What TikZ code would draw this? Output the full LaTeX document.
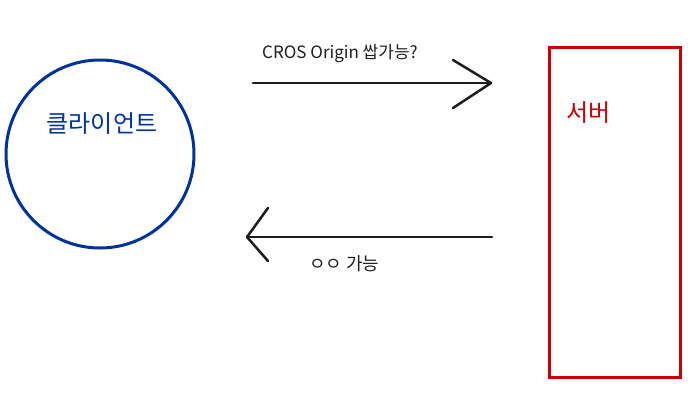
\documentclass[tikz,border=0pt]{standalone}
\usepackage{fontspec}
\newfontfamily\kr{Noto Sans CJK KR}
\definecolor{cblue}{HTML}{0033A0}
\definecolor{cred}{HTML}{CC0000}
\definecolor{cink}{HTML}{1E1E1E}
\begin{document}
\begin{tikzpicture}[x=1pt,y=-1pt,
  arrowline/.style={draw=cink,line width=2.5pt,line cap=round,line join=round},
  lbl/.style={font=\kr\fontsize{17}{19}\selectfont,text=cink,inner sep=0pt}]
\useasboundingbox (0,0) rectangle (700,408);
% client
\node[circle,draw=cblue,line width=3pt,minimum size=188pt,inner sep=0pt] (client) at (100,154) {};
\node[font=\kr\fontsize{24}{26}\selectfont,text=cblue,inner sep=0pt] (clientlbl) at (102,124) {클라이언트};
% server
\node[draw=cred,line width=3pt,rectangle,minimum width=131pt,minimum height=330pt,inner sep=0pt] (server) at (614.5,212) {};
\node[font=\kr\fontsize{24}{26}\selectfont,text=cred,inner sep=0pt,anchor=west] (serverlbl) at (566,113) {서버};
% request arrow
\coordinate (r1) at (253,83);
\coordinate (r2) at (491,83);
\coordinate (r2a) at (453,60);
\coordinate (r2b) at (453,108);
\draw[arrowline] (r1) -- (r2);
\draw[arrowline] (r2a) -- (r2) -- (r2b);
\node[lbl,anchor=west] (reqlbl) at (262,54) {CROS Origin 쌉가능?};
% response arrow
\coordinate (s1) at (492,237);
\coordinate (s2) at (247,237);
\coordinate (s2a) at (268,208);
\coordinate (s2b) at (268,261);
\draw[arrowline] (s1) -- (s2);
\draw[arrowline] (s2a) -- (s2) -- (s2b);
\node[font=\kr\fontsize{18}{20}\selectfont,text=cink,inner sep=0pt,anchor=west] (reslbl) at (309,264) {ㅇㅇ 가능};
\end{tikzpicture}
\end{document}
